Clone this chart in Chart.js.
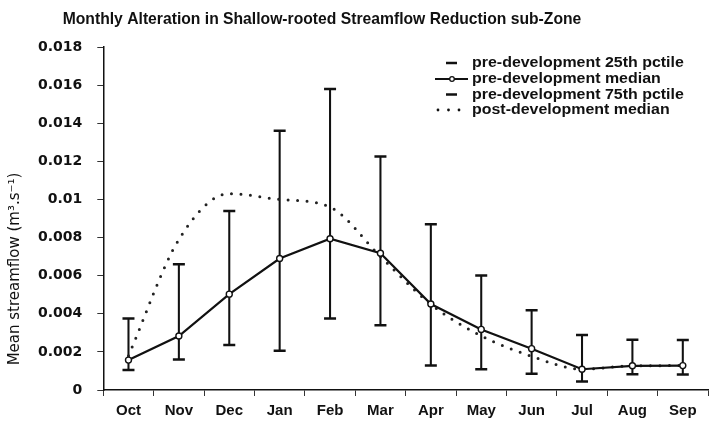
<!DOCTYPE html>
<html>
<head>
<meta charset="utf-8">
<script src="https://cdn.jsdelivr.net/npm/chart.js@4.4.1/dist/chart.umd.min.js"></script>
<style>
  html, body { margin: 0; padding: 0; background: #fff; }
  #wrap { width: 717px; height: 431px; }
</style>
</head>
<body>
<div id="wrap"><canvas id="c" width="717" height="431"></canvas></div>
<script>
// Labels
const chartTitle = 'Monthly Alteration in Shallow-rooted Streamflow Reduction sub-Zone';
const yAxisTitle = 'Mean streamflow (m³.s⁻¹)';
const months = ['Oct', 'Nov', 'Dec', 'Jan', 'Feb', 'Mar', 'Apr', 'May', 'Jun', 'Jul', 'Aug', 'Sep'];

// Mean streamflow, m3/s
const preP25    = [0.00105, 0.0016, 0.00236, 0.00206, 0.00375, 0.0034, 0.00128, 0.00109, 0.00085, 0.00045, 0.00083, 0.00081];
const preMedian = [0.00157, 0.00283, 0.00503, 0.0069, 0.00794, 0.00718, 0.00451, 0.00318, 0.00217, 0.00109, 0.00127, 0.00128];
const preP75    = [0.00375, 0.0066, 0.0094, 0.0136, 0.0158, 0.01225, 0.0087, 0.00601, 0.00418, 0.00288, 0.00264, 0.00263];
const postMedian = [0.0018, 0.0079, 0.0103, 0.0100, 0.0096, 0.0070, 0.0045, 0.00284, 0.00177, 0.00109, 0.00127, 0.00128];

// Series names
const seriesNames = ['pre-development 25th pctile', 'pre-development median', 'pre-development 75th pctile', 'post-development median'];

// Y axis range
const yMin = 0, yMax = 0.018, yStep = 0.002;

const tickFont = { family: 'DejaVu Sans', weight: 'bold', size: 14 };
const monthFont = { family: 'Liberation Sans', weight: 'bold', size: 15 };

// Whisker bars span the 25th to 75th percentile
const whiskers = months.map((m, i) => [preP25[i], preP75[i]]);

// Title, y-axis title and legend drawn on the canvas
const decorations = {
  id: 'decorations',
  afterDraw(chart) {
    const ctx = chart.ctx;
    ctx.save();
    ctx.fillStyle = '#111';
    ctx.textBaseline = 'middle';

    // chart title
    ctx.font = 'bold 15.7px "Liberation Sans", Arial, sans-serif';
    ctx.textAlign = 'center';
    ctx.fillText(chartTitle, 322, 20);

    // y-axis title
    ctx.save();
    ctx.translate(15, 269);
    ctx.rotate(-Math.PI / 2);
    ctx.font = '15px "DejaVu Sans", sans-serif';
    ctx.fillText(yAxisTitle, 0, 0);
    ctx.restore();

    // legend
    ctx.font = 'bold 14.5px "Liberation Sans", Arial, sans-serif';
    ctx.textAlign = 'left';
    const tx = 472;
    const rows = [63, 79, 94.5, 110];
    ctx.strokeStyle = '#111';
    ctx.lineCap = 'butt';
    // 25th pctile: dash
    ctx.lineWidth = 2.5;
    ctx.beginPath(); ctx.moveTo(446, rows[0]); ctx.lineTo(457, rows[0]); ctx.stroke();
    // median: line with point
    ctx.lineWidth = 2;
    ctx.beginPath(); ctx.moveTo(435, rows[1]); ctx.lineTo(468, rows[1]); ctx.stroke();
    ctx.fillStyle = '#fff';
    ctx.lineWidth = 1.3;
    ctx.beginPath(); ctx.arc(452, rows[1], 2.3, 0, Math.PI * 2); ctx.fill(); ctx.stroke();
    ctx.fillStyle = '#111';
    // 75th pctile: dash
    ctx.lineWidth = 2.5;
    ctx.beginPath(); ctx.moveTo(446, rows[2]); ctx.lineTo(457, rows[2]); ctx.stroke();
    // post-development median: dots
    [438, 448.5, 459].forEach(x => {
      ctx.beginPath(); ctx.arc(x, rows[3], 1.4, 0, Math.PI * 2); ctx.fill();
    });
    // legend text, slightly widened
    seriesNames.forEach((name, i) => {
      ctx.save();
      ctx.translate(tx, rows[i]);
      ctx.scale(1.1, 1);
      ctx.fillText(name, 0, 0);
      ctx.restore();
    });
    ctx.restore();
  }
};

new Chart(document.getElementById('c'), {
  type: 'bar',
  data: {
    labels: months,
    datasets: [
      {
        type: 'bar',
        label: 'range',
        data: whiskers,
        backgroundColor: '#111',
        borderWidth: 0,
        barThickness: 1.4,
        order: 5
      },
      {
        type: 'line',
        label: seriesNames[3],
        data: postMedian,
        borderColor: '#222',
        borderWidth: 3,
        borderDash: [0, 9.5],
        borderCapStyle: 'round',
        cubicInterpolationMode: 'monotone',
        pointRadius: 0,
        fill: false,
        order: 4
      },
      {
        type: 'line',
        label: seriesNames[0],
        data: preP25,
        showLine: false,
        pointStyle: 'line',
        pointRadius: 6,
        pointBorderWidth: 2.5,
        borderColor: '#111',
        order: 3
      },
      {
        type: 'line',
        label: seriesNames[2],
        data: preP75,
        showLine: false,
        pointStyle: 'line',
        pointRadius: 6,
        pointBorderWidth: 2.5,
        borderColor: '#111',
        order: 2
      },
      {
        type: 'line',
        label: seriesNames[1],
        data: preMedian,
        borderColor: '#111',
        borderWidth: 2.2,
        tension: 0,
        pointStyle: 'circle',
        pointRadius: 3,
        pointBorderWidth: 1.4,
        pointBackgroundColor: '#fff',
        pointBorderColor: '#111',
        fill: false,
        order: 1
      }
    ]
  },
  options: {
    responsive: false,
    animation: false,
    layout: { padding: { left: 23, right: 9, top: 47, bottom: 5 } },
    plugins: {
      legend: { display: false },
      title: { display: false },
      tooltip: { enabled: false }
    },
    scales: {
      x: {
        offset: true,
        grid: { display: true, drawOnChartArea: false, offset: true, tickLength: 6, color: '#333', lineWidth: 1 },
        border: { display: true, color: '#111', width: 1.5 },
        ticks: { color: '#111', font: monthFont, padding: 6, maxRotation: 0, autoSkip: false }
      },
      y: {
        min: yMin,
        max: yMax,
        grid: { display: true, drawOnChartArea: false, tickLength: 6, color: '#333', lineWidth: 1 },
        border: { display: true, color: '#111', width: 1.5 },
        ticks: {
          stepSize: yStep,
          color: '#111',
          font: tickFont,
          padding: 15,
          callback: v => String(+v.toFixed(3))
        }
      }
    }
  },
  plugins: [decorations]
});
</script>
</body>
</html>
